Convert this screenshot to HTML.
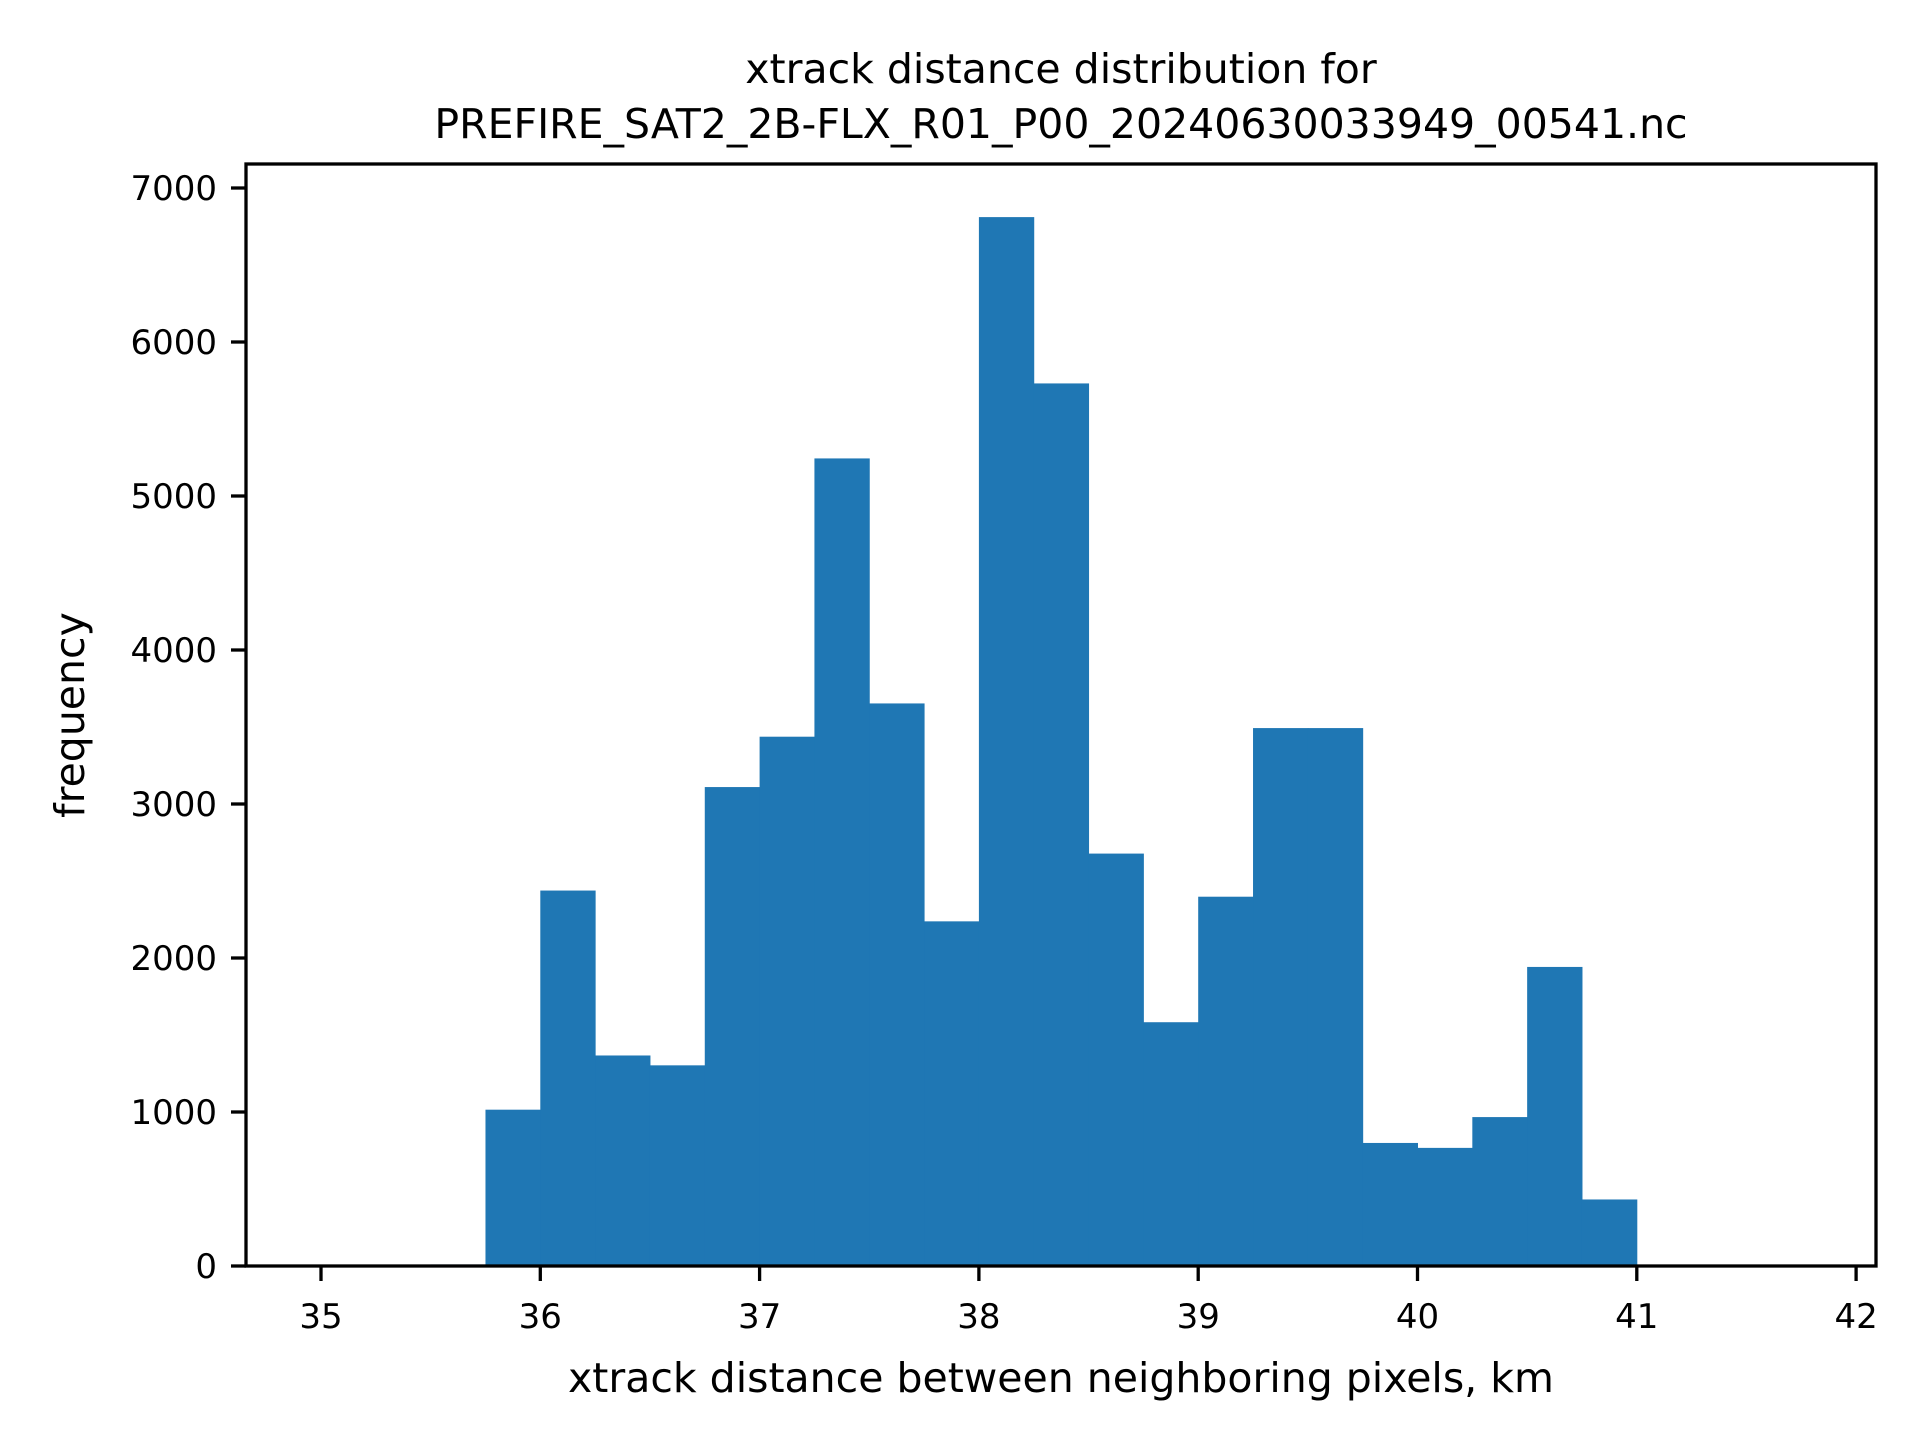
<!DOCTYPE html>
<html><head><meta charset="utf-8"><style>
html,body{margin:0;padding:0;background:#fff;}
svg{display:block;font-family:"DejaVu Sans","Liberation Sans",sans-serif;}
</style></head><body>
<svg id="chart" width="1920" height="1440" viewBox="0 0 1920 1440" xmlns="http://www.w3.org/2000/svg">
<rect width="1920" height="1440" fill="#fff"/>
<text x="1061" y="83" font-size="41" text-anchor="middle">xtrack distance distribution for</text>
<text x="1061" y="138" font-size="41" text-anchor="middle">PREFIRE_SAT2_2B-FLX_R01_P00_20240630033949_00541.nc</text>
<g id="bars"></g>
<g id="xticks"></g>
<g id="yticks"></g>
<rect x="246" y="164" width="1630" height="1102" fill="none" stroke="#000" stroke-width="3.3"/>
<text x="1061" y="1392" font-size="41" text-anchor="middle">xtrack distance between neighboring pixels, km</text>
<text transform="translate(84,715) rotate(-90)" font-size="41" text-anchor="middle">frequency</text>
</svg>
<script>
const binEdgesStart = [35.5,35.75,36,36.25,36.5,36.75,37,37.25,37.5,37.75,38,38.25,38.5,38.75,39,39.25,39.5,39.75,40,40.25,40.5,40.75];
const binWidth = 0.25;
const counts = [10,1015,2438,1367,1303,3110,3437,5244,3653,2238,6811,5731,2678,1583,2398,3493,3493,799,767,967,1942,432];
const xTicks = [35,36,37,38,39,40,41,42];
const yTicks = [0,1000,2000,3000,4000,5000,6000,7000];

const NS = "http://www.w3.org/2000/svg";
const X0 = 321, XU = 219.3;
const Y0 = 1266, YU = 0.154;
const xs = v => X0 + (v - 35) * XU;
const ys = v => Y0 - v * YU;

const bars = document.getElementById('bars');
binEdgesStart.forEach((e, i) => {
  const r = document.createElementNS(NS, 'rect');
  const x1 = xs(e), x2 = xs(e + binWidth);
  r.setAttribute('x', x1);
  r.setAttribute('width', x2 - x1 + 0.5);
  r.setAttribute('y', ys(counts[i]));
  r.setAttribute('height', Y0 - ys(counts[i]));
  r.setAttribute('fill', '#1f77b4');
  
  
  bars.appendChild(r);
});

const xg = document.getElementById('xticks');
xTicks.forEach(t => {
  const l = document.createElementNS(NS, 'line');
  l.setAttribute('x1', xs(t)); l.setAttribute('x2', xs(t));
  l.setAttribute('y1', 1266); l.setAttribute('y2', 1281);
  l.setAttribute('stroke', '#000'); l.setAttribute('stroke-width', '3.3');
  
  
  xg.appendChild(l);
  const tx = document.createElementNS(NS, 'text');
  tx.setAttribute('x', xs(t)); tx.setAttribute('y', 1328);
  tx.setAttribute('font-size', '34'); tx.setAttribute('text-anchor', 'middle');
  tx.textContent = t;
  
  
  xg.appendChild(tx);
});

const yg = document.getElementById('yticks');
yTicks.forEach(t => {
  const l = document.createElementNS(NS, 'line');
  l.setAttribute('x1', 231); l.setAttribute('x2', 246);
  l.setAttribute('y1', ys(t)); l.setAttribute('y2', ys(t));
  l.setAttribute('stroke', '#000'); l.setAttribute('stroke-width', '3.3');
  
  
  yg.appendChild(l);
  const tx = document.createElementNS(NS, 'text');
  tx.setAttribute('x', 217); tx.setAttribute('y', ys(t) + 12);
  tx.setAttribute('font-size', '34'); tx.setAttribute('text-anchor', 'end');
  tx.textContent = t;
  
  
  yg.appendChild(tx);
});
</script>
</body></html>
